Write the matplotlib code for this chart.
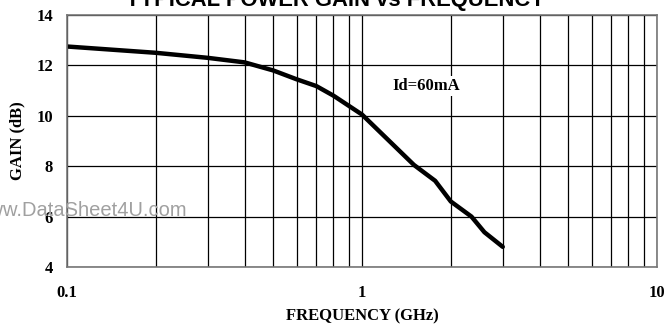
import matplotlib
matplotlib.use('Agg')
import matplotlib.pyplot as plt
from matplotlib.ticker import FixedLocator, NullFormatter

# Gain vs frequency
freq_ghz = [0.1, 0.2, 0.3, 0.4, 0.5, 0.6, 0.7, 0.8, 1.0, 1.5, 1.77, 2.0, 2.35, 2.6, 3.0]
gain_db = [12.75, 12.5, 12.3, 12.12, 11.8, 11.45, 11.18, 10.8, 10.05, 8.05, 7.42, 6.6, 6.0, 5.38, 4.8]
x_ticks = [0.1, 1, 10]
x_ticklabels = ['0.1', '1', '10']
y_ticks = [4, 6, 8, 10, 12, 14]

fig = plt.figure(figsize=(6.65, 3.26), dpi=100)
ax = fig.add_axes([67 / 665, 1 - 267 / 326, 590 / 665, 252 / 326])

ax.set_xscale('log')
ax.set_xlim(0.1, 10)
ax.set_ylim(4, 14)

# grid: every decade subdivision + 2 dB lines
minor = [m * d for d in (0.1, 1) for m in range(2, 10)]
ax.xaxis.set_minor_locator(FixedLocator(minor))
ax.xaxis.set_minor_formatter(NullFormatter())
ax.set_xticks(x_ticks)
ax.set_xticklabels(x_ticklabels)
ax.set_yticks(y_ticks)
ax.grid(True, which='major', axis='y', color='black', lw=0.9)
ax.grid(True, which='both', axis='x', color='black', lw=0.9)
ax.tick_params(which='both', length=0)
ax.tick_params(axis='x', pad=13)
ax.tick_params(axis='y', pad=10)
for lab in ax.get_xticklabels() + ax.get_yticklabels():
    lab.set_fontfamily('Liberation Serif')
    lab.set_fontweight('bold')
    lab.set_fontsize(12)
for s in ax.spines.values():
    s.set_color('#777777')
    s.set_linewidth(1.2)

ax.plot(freq_ghz, gain_db, color='black', lw=3.2, solid_capstyle='round')

ax.text(1.65, 11.2, 'Id=60mA', ha='center', va='center',
        fontfamily='Liberation Serif', fontweight='bold', fontsize=12,
        bbox=dict(facecolor='white', edgecolor='none', pad=1.5))

ax.set_xlabel('FREQUENCY (GHz)', fontfamily='Liberation Serif',
              fontweight='bold', fontsize=12, labelpad=5)
ax.set_ylabel('GAIN (dB)', fontfamily='Liberation Serif',
              fontweight='bold', fontsize=12, labelpad=8)

# title partly cut off at top of the page
fig.text(0.505, 1 - 6 / 326, 'TYPICAL POWER GAIN vs FREQUENCY', ha='center',
         va='baseline', fontfamily='Liberation Sans', fontweight='bold',
         fontsize=15.8)

# watermark, clipped on the left edge
fig.text(187 / 665, 1 - 211 / 326, 'www.DataSheet4U.com', ha='right',
         va='center', color='#a0a0a0', fontfamily='Liberation Sans',
         fontsize=14.5)

fig.savefig('out.png', dpi=100)
